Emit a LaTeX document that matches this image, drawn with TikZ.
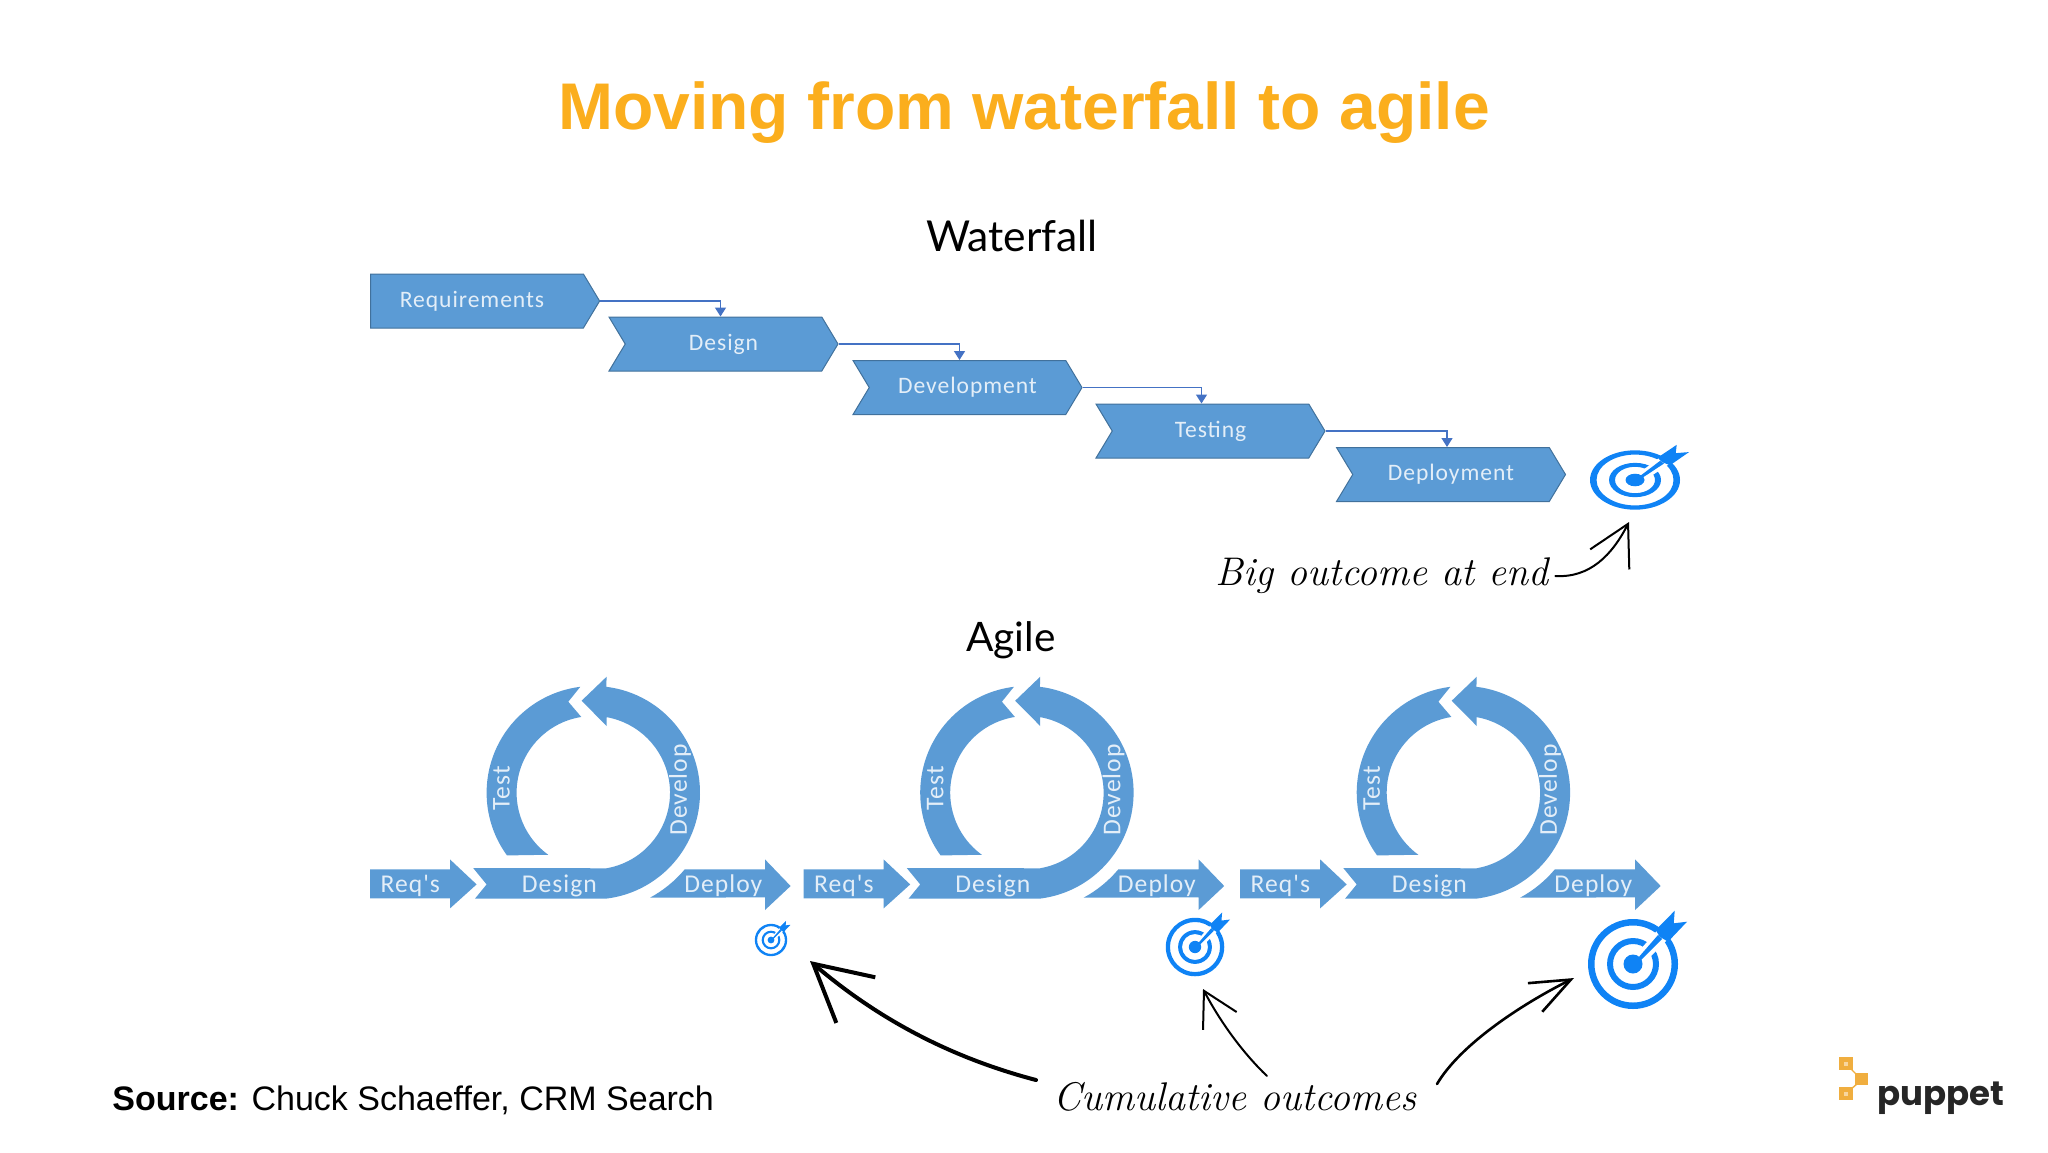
\documentclass[tikz,border=0pt]{standalone}
\usepackage{fontspec}
\usetikzlibrary{positioning,shapes.symbols,arrows.meta}
\newfontfamily\titlefont{Liberation Sans}
\newfontfamily\blockfont[LetterSpace=4]{Carlito}
\newfontfamily\headfont{Lato}
\newfontfamily\logofont{Poppins}
\definecolor{blockblue}{HTML}{5B9BD5}
\definecolor{blockedge}{HTML}{41719C}
\definecolor{linkblue}{HTML}{4472C4}
\definecolor{targetblue}{HTML}{0F83F5}
\definecolor{titleorange}{HTML}{FBAE1D}
\definecolor{logoorange}{HTML}{F0AE3F}
\definecolor{blocktext}{HTML}{E3EEF8}
\begin{document}
\begin{tikzpicture}[x=0.5pt, y=0.5pt, >=stealth, node distance=21.75pt]
    \useasboundingbox (0,0) rectangle (2048,-1152);
    \tikzset{block/.style = {shape=signal, signal to=east, signal from=west, signal pointer angle=118,
            draw=blockedge, line width=0.5pt, fill=blockblue, text=blocktext, inner sep=0pt,
            minimum width=114.5pt, minimum height=27pt, font=\blockfont\fontsize{11.8}{13}\selectfont}}
    \tikzset{link/.style = {draw=linkblue, line width=0.7pt, -{Triangle[length=4.5pt,width=5.5pt]}}}
    \tikzset{looplabel/.style = {text=blocktext, inner sep=0pt, font=\blockfont\fontsize{12.8}{14}\selectfont}}
    \tikzset{hand/.style = {black, line cap=round}}
    \tikzset{target/.pic = {
            \fill[targetblue, even odd rule] (0,0) circle (45) circle (38.5) (0,0) circle (26) circle (20);
            \fill[white] (-3,3) -- (5,-5) -- (40,30) -- (30,40) -- cycle;
            \fill[targetblue] (0,0) circle (9.5);
            \fill[targetblue] (-2,-2) -- (2,-2) -- (29,25) -- (25,29) -- cycle;
            \fill[targetblue] (22.7,34) -- (41.7,53.3) -- (40.7,40.7) -- (54,42.3) -- (35,22.3) -- (26.7,27.3) -- cycle;
    }}
    \tikzset{agileloop/.pic = {
            \fill[blockblue] (-223.3,-76.7) -- (-143.3,-76.7) -- (-143.3,-66.7) -- (-116.7,-91.7)
                -- (-143.3,-115.7) -- (-143.3,-105.7) -- (-223.3,-105.7) -- cycle;
            \fill[blockblue] (-120,-75.5) -- (-80:38.35pt) arc[start angle=-80, end angle=80, radius=38.35pt]
                -- (13.3,66.7) -- (-11.7,92) -- (13.3,116) -- (83:53.35pt)
                arc[start angle=83, end angle=-83, radius=53.35pt] -- (-118.3,-105.9) -- (-106.7,-91.7) -- cycle;
            \fill[blockblue] (216:53.35pt) arc[start angle=216, end angle=97, radius=53.35pt]
                -- (-25,91) -- (99:38.35pt) arc[start angle=99, end angle=234, radius=38.35pt] -- cycle;
            \fill[blockblue] (-61.6:59.65pt) arc[start angle=-61.6, end angle=-40, radius=59.65pt]
                -- (171.7,-76.7) -- (171.7,-66.7) -- (197.3,-93.3) -- (171.7,-117.3) -- (171.7,-104.7) -- cycle;
            \node[looplabel] (req) at (-183,-93) {Req's};
            \node[looplabel] (design) at (-34,-93) {Design};
            \node[looplabel] (deploy) at (130,-93) {Deploy};
            \node[looplabel, rotate=90] (test) at (-91.7,4.3) {Test};
            \node[looplabel, rotate=90] (develop) at (86.7,2.7) {Develop};
    }}

    \node[text=titleorange, font=\titlefont\bfseries\fontsize{33}{40}\selectfont] (title) at (1024,-113) {Moving from waterfall to agile};
    \node[font=\headfont\fontsize{21.3}{26}\selectfont] (waterfall) at (1012,-236) {Waterfall};
    \node[font=\headfont\fontsize{20.3}{24}\selectfont] (agile) at (1011,-640) {Agile};

    % waterfall
    \node[block, signal from=nowhere] (requirements) at (477,-301) {Requirements\hspace*{5pt}};
    \node[block, below of=requirements, xshift=123.25pt, yshift=0.25pt] (designw) {Design};
    \node[block, below of=designw, xshift=122pt] (development) {Development};
    \node[block, below of=development, xshift=121.5pt] (testing) {Testing};
    \node[block, below of=testing, xshift=120.25pt] (deployment) {Deployment};

    \draw[link] (requirements.east) -| ([xshift=-1.5pt]designw.north);
    \draw[link] (designw.east) -| ([xshift=-4pt]development.north);
    \draw[link] (development.east) -| ([xshift=-4.5pt]testing.north);
    \draw[link] (testing.east) -| ([xshift=-2pt]deployment.north);

    \pic[yscale=0.66] (bigtarget) at (1635,-480) {target};
    \node[hand, font=\itshape\fontsize{20}{24}\selectfont] (bigoutcome) at (1382,-576) {Big outcome at end};
    \coordinate (bigtip) at (1629,-522);
    \draw[hand, line width=1pt, -{Straight Barb[length=20pt,width=22pt]}] (bigoutcome.east) .. controls (1590,-578) and (1612,-555) .. (bigtip);

    % agile
    \pic (one) at (593.3,-792.7) {agileloop};
    \pic (two) at (1026.9,-792.7) {agileloop};
    \pic (three) at (1463.4,-792.7) {agileloop};

    \pic[scale=0.36] (targetone) at (771,-940) {target};
    \pic[scale=0.65] (targettwo) at (1195,-947) {target};
    \pic (targetthree) at (1633,-964) {target};

    \node[hand, font=\itshape\fontsize{20}{24}\selectfont] (cumulative) at (1235,-1097) {Cumulative outcomes};
    \coordinate (tipone) at (810,-961);
    \coordinate (tiptwo) at (1203,-989);
    \coordinate (tipthree) at (1574,-978);
    \draw[hand, line width=2pt, -{Straight Barb[length=28pt,width=30pt]}] (1036,-1080) .. controls (960,-1060) and (885,-1025) .. (tipone);
    \draw[hand, line width=1pt, -{Straight Barb[length=17pt,width=19pt]}] (1267,-1076) .. controls (1245,-1055) and (1222,-1025) .. (tiptwo);
    \draw[hand, line width=1.3pt, -{Straight Barb[length=20pt,width=16pt]}] (1437,-1084) .. controls (1460,-1045) and (1520,-1005) .. (tipthree);

    \node[anchor=west, inner sep=0pt, font=\titlefont\fontsize{17}{21}\selectfont] (source) at (112,-1100) {\textbf{Source:} Chuck Schaeffer, CRM Search};

    % logo
    \fill[logoorange] (1839,-1057) rectangle (1853,-1070);
    \fill[logoorange] (1855,-1073) rectangle (1868,-1085);
    \fill[logoorange] (1839,-1087) rectangle (1853,-1100);
    \fill[logoorange!50] (1844,-1062) rectangle (1848,-1066);
    \fill[logoorange!50] (1844,-1092) rectangle (1848,-1096);
    \draw[logoorange, line width=0.7pt] (1850,-1068) -- (1858,-1076) (1858,-1083) -- (1850,-1090);
    \node[anchor=west, inner sep=0pt, text=black!85, font=\logofont\bfseries\fontsize{17}{21}\selectfont] (puppet) at (1877,-1098) {puppet};
\end{tikzpicture}
\end{document}
